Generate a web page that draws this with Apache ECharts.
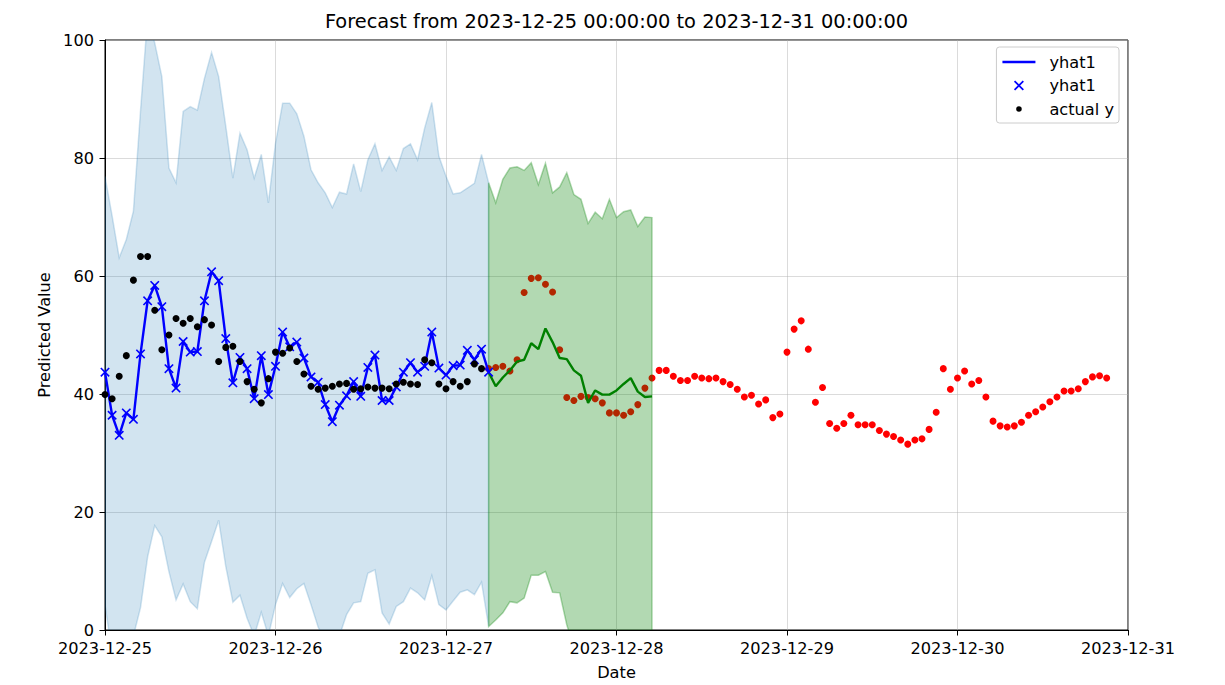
<!DOCTYPE html>
<html>
<head>
<meta charset="utf-8">
<script src="https://cdn.jsdelivr.net/npm/echarts@6/dist/echarts.min.js"></script>
<style>
  html, body { margin: 0; padding: 0; background: #fff; }
  #chart { width: 1225px; height: 685px; }
</style>
</head>
<body>
<div id="chart"></div>
<script>
// ---- data (hourly steps from 2023-12-25 00:00) ----
const tickLabels = ['2023-12-25', '2023-12-26', '2023-12-27', '2023-12-28', '2023-12-29', '2023-12-30', '2023-12-31'];
const titleText = 'Forecast from 2023-12-25 00:00:00 to 2023-12-31 00:00:00';

const fitStart = 0;        // in-sample fit hours 0..54
const forecastStart = 54;  // forecast hours 54..77
const futureStart = 54;    // future actuals hours 54..141

const yhatFit = [43.7, 36.4, 33.0, 36.8, 35.7, 46.8, 55.8, 58.4, 54.8, 44.3,
  41.0, 48.9, 47.1, 47.2, 55.8, 60.7, 59.2, 49.4, 41.9, 46.2,
  44.3, 39.2, 46.5, 39.9, 44.7, 50.5, 48.0, 48.8, 46.1, 42.9,
  42.0, 38.2, 35.3, 38.1, 39.7, 42.1, 39.6, 44.5, 46.6, 38.9,
  38.9, 41.2, 43.7, 45.3, 43.7, 44.7, 50.5, 44.4, 43.2, 44.8,
  44.9, 47.4, 45.8, 47.6, 43.7];

const fitUpper = [76.9, 70.2, 63.1, 66.2, 71.0, 88.0, 104.0, 99.5, 93.8, 78.3,
  75.8, 87.9, 88.7, 88.1, 93.5, 97.9, 93.8, 85.4, 76.6, 84.2,
  81.4, 76.6, 80.6, 72.4, 82.5, 89.3, 89.3, 87.5, 83.7, 78.0,
  75.8, 74.1, 71.6, 74.2, 73.9, 79.0, 74.3, 79.7, 82.4, 77.9,
  80.2, 77.9, 81.6, 82.4, 79.7, 85.1, 89.4, 80.3, 76.9, 73.9,
  74.1, 74.9, 75.7, 80.6, 75.8];

const fitLower = [4.3, -4.0, -6.0, -4.0, -1.0, 3.8, 12.4, 17.7, 15.8, 9.9,
  5.1, 7.8, 4.8, 3.6, 11.5, 15.0, 18.6, 10.8, 4.7, 5.9,
  2.0, -1.0, 3.0, -1.0, 4.3, 7.9, 5.5, 7.0, 7.9, 4.3,
  0.5, -2.0, -3.0, -1.0, 2.6, 4.6, 4.8, 9.6, 10.2, 2.9,
  1.0, 4.0, 4.8, 7.1, 6.3, 5.1, 9.2, 4.3, 3.4, 4.9,
  6.4, 6.8, 6.0, 8.1, 0.6];

const actualY = [39.9, 39.2, 43.0, 46.5, 59.3, 63.3, 63.3, 54.2, 47.5, 50.0,
  52.8, 52.0, 52.8, 51.4, 52.6, 51.7, 45.5, 47.9, 48.1, 45.5,
  42.1, 40.8, 38.5, 42.6, 47.1, 46.9, 47.8, 45.5, 43.4, 41.3,
  40.8, 41.0, 41.3, 41.7, 41.8, 40.8, 40.9, 41.2, 41.0, 41.0,
  40.9, 41.7, 42.0, 41.7, 41.6, 45.8, 45.3, 41.7, 40.9, 42.1,
  41.3, 42.1, 45.1, 44.3];

const yhatForecast = [43.7, 41.3, 42.8, 44.0, 45.5, 45.8, 48.6, 47.6, 51.1, 48.8,
  46.1, 45.9, 44.0, 43.1, 38.5, 40.6, 39.9, 39.9, 40.6, 41.7,
  42.7, 40.4, 39.5, 39.6];

const forecastUpper = [75.8, 72.4, 76.4, 78.3, 78.5, 77.9, 79.2, 75.5, 79.1, 74.1,
  75.1, 77.5, 73.8, 73.0, 68.9, 70.8, 69.7, 73.0, 69.9, 70.9,
  71.2, 68.4, 70.0, 69.9];

const forecastLower = [0.6, 1.7, 2.9, 4.8, 4.6, 5.4, 9.3, 9.3, 9.9, 6.4,
  6.3, 0.9, -3.0, -5.0, -6.0, -5.0, -6.0, -7.0, -6.0, -5.0,
  -5.0, -6.0, -6.0, -6.0];

const futureActual = [44.3, 44.5, 44.7, 43.9, 45.8, 57.2, 59.6, 59.7, 58.6, 57.3,
  47.5, 39.4, 38.9, 39.6, 39.4, 39.2, 38.5, 36.8, 36.8, 36.4,
  37.0, 38.2, 41.0, 42.7, 44.0, 44.0, 43.0, 42.3, 42.3, 43.0,
  42.7, 42.6, 42.7, 42.1, 41.6, 40.8, 39.5, 39.8, 38.3, 39.0,
  36.0, 36.6, 47.1, 51.0, 52.4, 47.6, 38.6, 41.1, 35.0, 34.2,
  35.0, 36.4, 34.8, 34.8, 34.8, 33.8, 33.2, 32.8, 32.2, 31.5,
  32.2, 32.4, 34.0, 36.9, 44.3, 40.8, 42.7, 43.9, 41.7, 42.3,
  39.5, 35.4, 34.6, 34.4, 34.6, 35.2, 36.4, 37.0, 37.8, 38.7,
  39.5, 40.5, 40.5, 40.9, 42.1, 42.9, 43.1, 42.7];

// ---- helpers ----
const pairs = (start, arr) => arr.map((v, i) => [start + i, v]);

const FONT = 'DejaVu Sans';
const FS = 16.2;
const blueFill = 'rgba(31,119,180,0.2)';
const greenFill = 'rgba(0,128,0,0.3)';
const X_PATH = 'path://M0,1.2 L1.2,0 L5,3.8 L8.8,0 L10,1.2 L6.2,5 L10,8.8 L8.8,10 L5,6.2 L1.2,10 L0,8.8 L3.8,5 Z';
const DOT_ICON = 'path://M0,0 M10,10 M2.2,5 A2.8,2.8 0 1,0 7.8,5 A2.8,2.8 0 1,0 2.2,5 Z';
const LINE_ICON = 'path://M0,0 L33,0 L33,2.4 L0,2.4 Z';

// uncertainty band: one polygon (upper edge forward, lower edge back) placed through the axes
function bandSeries(name, start, lo, hi, color, z) {
  return {
    name: name, type: 'custom', z: z, silent: true, clip: true,
    data: lo.map((v, i) => [start + i, v, hi[i]]),
    encode: { x: 0, y: [1, 2] },
    renderItem: function (params, api) {
      if (params.dataIndex !== 0) return null;
      const pts = [];
      for (let i = 0; i < hi.length; i++) pts.push(api.coord([start + i, hi[i]]));
      for (let i = lo.length - 1; i >= 0; i--) pts.push(api.coord([start + i, lo[i]]));
      return {
        type: 'polygon',
        shape: { points: pts },
        style: { fill: color, stroke: color, lineWidth: 1.5 }
      };
    }
  };
}

const chart = echarts.init(document.getElementById('chart'), null, { renderer: 'svg' });

chart.setOption({
  animation: false,
  backgroundColor: '#ffffff',
  textStyle: { fontFamily: FONT },
  title: {
    text: titleText,
    left: 616.5, textAlign: 'center', top: 12, padding: 0,
    textStyle: { fontFamily: FONT, fontSize: 19.4, fontWeight: 'normal', color: '#000' }
  },
  grid: {
    left: 105, right: 97, top: 40, bottom: 53,
    show: true, borderColor: '#000', borderWidth: 1, backgroundColor: 'transparent'
  },
  legend: {
    orient: 'vertical', right: 106, top: 47,
    data: [
      { name: 'yhat1', icon: LINE_ICON },
      { name: 'yhat1 ', icon: X_PATH },
      { name: 'actual y', icon: DOT_ICON }
    ],
    formatter: n => n.trim(),
    itemWidth: 33, itemHeight: 10, itemGap: 7.5,
    padding: [7, 5, 6, 6],
    backgroundColor: 'rgba(255,255,255,0.8)',
    borderColor: '#cccccc', borderWidth: 1, borderRadius: 3,
    selectedMode: false,
    textStyle: { fontFamily: FONT, fontSize: FS, color: '#000', padding: [0, 0, 0, 9] }
  },
  xAxis: {
    type: 'value', min: 0, max: 144, interval: 24,
    name: 'Date', nameLocation: 'middle', nameGap: 34,
    nameTextStyle: { fontFamily: FONT, fontSize: FS, color: '#000' },
    axisLine: { show: true, lineStyle: { color: '#000', width: 1 } },
    axisTick: { show: true, length: 5.5, lineStyle: { color: '#000' } },
    axisLabel: {
      fontFamily: FONT, fontSize: FS, color: '#000', margin: 10,
      showMaxLabel: true, showMinLabel: true,
      formatter: v => tickLabels[Math.round(v / 24)]
    },
    splitLine: { show: true, lineStyle: { color: 'rgba(176,176,176,0.45)', width: 1 } }
  },
  yAxis: {
    type: 'value', min: 0, max: 100, interval: 20,
    name: 'Predicted Value', nameLocation: 'middle', nameGap: 52,
    nameTextStyle: { fontFamily: FONT, fontSize: FS, color: '#000' },
    axisLine: { show: true, lineStyle: { color: '#000', width: 1 } },
    axisTick: { show: true, length: 5.5, lineStyle: { color: '#000' } },
    axisLabel: { fontFamily: FONT, fontSize: FS, color: '#000', margin: 11 },
    splitLine: { show: true, lineStyle: { color: 'rgba(176,176,176,0.45)', width: 1 } }
  },
  series: [
    bandSeries('fitBand', fitStart, fitLower, fitUpper, blueFill, 1),
    // future actual values (drawn beneath the forecast band)
    { name: 'future', type: 'scatter', symbol: 'circle', symbolSize: 7, z: 2, silent: true,
      data: pairs(futureStart, futureActual), itemStyle: { color: '#ff0000', opacity: 1 } },
    bandSeries('forecastBand', forecastStart, forecastLower, forecastUpper, greenFill, 3),
    // fitted line and markers
    { name: 'yhat1', type: 'line', symbol: 'none', z: 4,
      data: pairs(fitStart, yhatFit), lineStyle: { color: '#0000ff', width: 2.4 }, itemStyle: { color: '#0000ff' } },
    { name: 'yhat1 ', type: 'scatter', symbol: X_PATH, symbolSize: 9.5, z: 5,
      data: pairs(fitStart, yhatFit), itemStyle: { color: '#0000ff', opacity: 1 } },
    // forecast line
    { name: 'forecast', type: 'line', symbol: 'none', z: 4,
      data: pairs(forecastStart, yhatForecast), lineStyle: { color: '#008000', width: 2.4 } },
    // actual values
    { name: 'actual y', type: 'scatter', symbol: 'circle', symbolSize: 7, z: 6,
      data: pairs(fitStart, actualY), itemStyle: { color: '#000000', opacity: 1 } }
  ]
});
</script>
</body>
</html>
